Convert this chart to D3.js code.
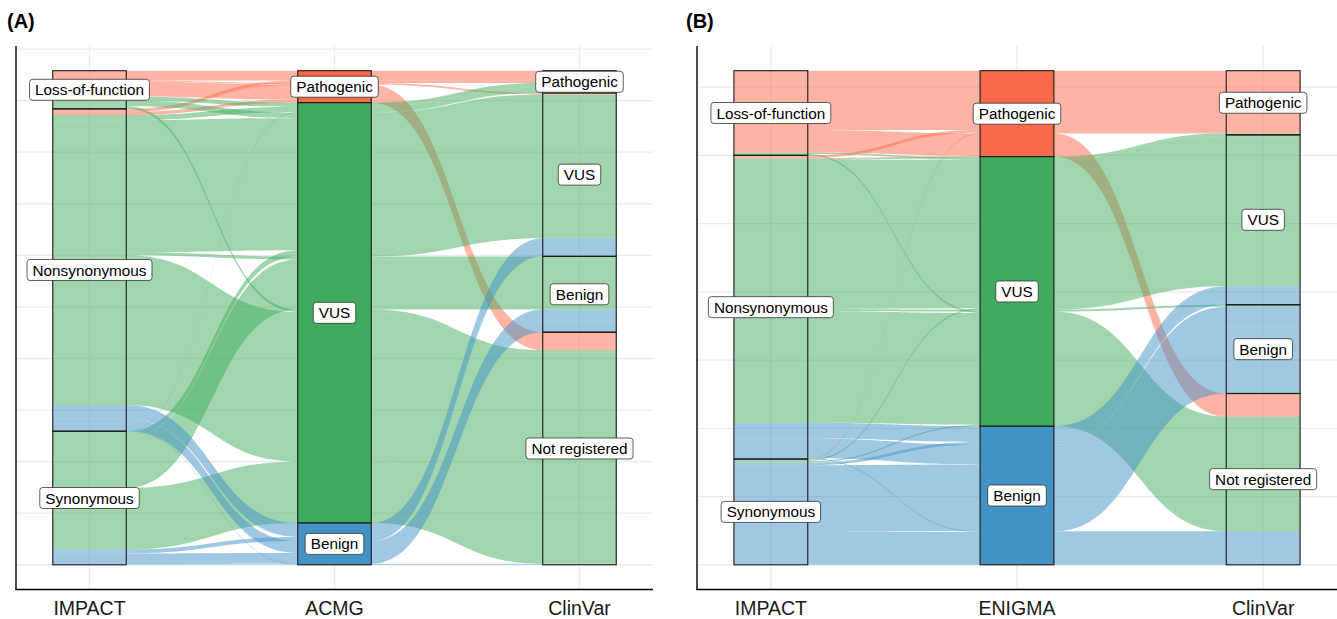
<!DOCTYPE html>
<html>
<head>
<meta charset="utf-8">
<script src="https://cdn.jsdelivr.net/npm/d3@7"></script>
<style>
  body { margin: 0; background: #fff; }
  svg { display: block; }
  text { font-family: "Liberation Sans", Arial, Helvetica, sans-serif; }
</style>
</head>
<body>
<svg id="chart" width="1337" height="619"></svg>
<script>
// Category levels, listed top to bottom on each axis
const impactLevels  = ["Loss-of-function", "Nonsynonymous", "Synonymous"];
const classLevels   = ["Pathogenic", "VUS", "Benign"];
const clinvarLevels = ["Pathogenic", "VUS", "Benign", "Not registered"];

const axesA = ["IMPACT", "ACMG", "ClinVar"];
const axesB = ["IMPACT", "ENIGMA", "ClinVar"];

const classColors = ["#FB6A4A", "#41AB5D", "#4292C6"];

// Variant counts per path: [IMPACT, ACMG, ClinVar, n]
const alluviaA = [
  ["Loss-of-function", "Pathogenic", "Pathogenic", 19],
  ["Nonsynonymous",    "Pathogenic", "Pathogenic", 5],
  ["Loss-of-function", "Pathogenic", "VUS", 2],
  ["Nonsynonymous",    "Pathogenic", "VUS", 1],
  ["Loss-of-function", "Pathogenic", "Not registered", 29],
  ["Nonsynonymous",    "Pathogenic", "Not registered", 6],
  ["Loss-of-function", "VUS", "Pathogenic", 8],
  ["Nonsynonymous",    "VUS", "Pathogenic", 10],
  ["Synonymous",       "VUS", "Pathogenic", 1],
  ["Loss-of-function", "VUS", "VUS", 11],
  ["Nonsynonymous",    "VUS", "VUS", 256],
  ["Synonymous",       "VUS", "VUS", 12],
  ["Nonsynonymous",    "VUS", "Benign", 6],
  ["Synonymous",       "VUS", "Benign", 97],
  ["Loss-of-function", "VUS", "Not registered", 5],
  ["Nonsynonymous",    "VUS", "Not registered", 290],
  ["Synonymous",       "VUS", "Not registered", 119],
  ["Nonsynonymous",    "Benign", "VUS", 27],
  ["Synonymous",       "Benign", "VUS", 8],
  ["Nonsynonymous",    "Benign", "Benign", 23],
  ["Synonymous",       "Benign", "Benign", 21],
  ["Nonsynonymous",    "Benign", "Not registered", 1],
  ["Synonymous",       "Benign", "Not registered", 1]
];

// Variant counts per path: [IMPACT, ENIGMA, ClinVar, n]
const alluviaB = [
  ["Loss-of-function", "Pathogenic", "Pathogenic", 87],
  ["Nonsynonymous",    "Pathogenic", "Pathogenic", 4],
  ["Synonymous",       "Pathogenic", "Pathogenic", 1],
  ["Loss-of-function", "Pathogenic", "Not registered", 33],
  ["Nonsynonymous",    "Pathogenic", "Not registered", 1],
  ["Nonsynonymous",    "VUS", "Pathogenic", 2],
  ["Loss-of-function", "VUS", "VUS", 2],
  ["Nonsynonymous",    "VUS", "VUS", 218],
  ["Synonymous",       "VUS", "VUS", 2],
  ["Nonsynonymous",    "VUS", "Benign", 3],
  ["Loss-of-function", "VUS", "Not registered", 2],
  ["Nonsynonymous",    "VUS", "Not registered", 164],
  ["Synonymous",       "VUS", "Not registered", 2],
  ["Nonsynonymous",    "Benign", "VUS", 23],
  ["Synonymous",       "Benign", "VUS", 4],
  ["Nonsynonymous",    "Benign", "Benign", 29],
  ["Synonymous",       "Benign", "Benign", 98],
  ["Nonsynonymous",    "Benign", "Not registered", 1],
  ["Synonymous",       "Benign", "Not registered", 48]
];

const svg = d3.select("#chart");

// Stack lodes on every axis; each axis sorts by its own stratum first,
// then zigzags through the remaining axes.
function stackAlluvia(rows, levels) {
  const lodeOrder = [[0, 1, 2], [1, 2, 0], [2, 1, 0]];
  const total = d3.sum(rows, r => r[3]);
  const lodes = rows.map(() => []);
  lodeOrder.forEach((ord, ax) => {
    const idx = d3.range(rows.length).sort((a, b) => {
      for (const k of ord) {
        const d = levels[k].indexOf(rows[a][k]) - levels[k].indexOf(rows[b][k]);
        if (d) return d;
      }
      return 0;
    });
    let acc = total;
    idx.forEach(i => { lodes[i][ax] = [acc, acc - rows[i][3]]; acc -= rows[i][3]; });
  });
  const strata = levels.map((lv, ax) => {
    let acc = total;
    return lv.map(name => {
      const n = d3.sum(rows.filter(r => r[ax] === name), r => r[3]);
      const s = { name, top: acc, bottom: acc - n, axis: ax };
      acc -= n;
      return s;
    }).filter(s => s.top > s.bottom);
  });
  return { total, lodes, strata };
}

function drawPanel(opts) {
  const { rows, axes, left, right, tag, tagX } = opts;
  const levels = [impactLevels, classLevels, clinvarLevels];
  const L = stackAlluvia(rows, levels);
  const top = 46, bottom = 589.5;

  const x = d3.scalePoint().domain(axes).range([left, right]).padding(0.3);
  const y = d3.scaleLinear().domain([-0.05 * L.total, 1.05 * L.total]).range([bottom, top]);
  const w = x.step() * 0.3;
  const color = d3.scaleOrdinal().domain(classLevels).range(classColors);

  const g = svg.append("g");

  // grid
  const gridVals = d3.range(0, 1.05 * L.total, 100);
  g.append("g").selectAll("line").data(gridVals).join("line")
    .attr("x1", left).attr("x2", right)
    .attr("y1", d => y(d)).attr("y2", d => y(d))
    .attr("stroke", "#ebebeb").attr("stroke-width", 1.3);
  g.append("g").selectAll("line").data(axes).join("line")
    .attr("x1", d => x(d)).attr("x2", d => x(d))
    .attr("y1", top).attr("y2", bottom)
    .attr("stroke", "#ebebeb").attr("stroke-width", 1.3);

  // alluvia
  const gap = x.step() - w;
  const k = gap * 0.5;
  function ribbon(lode) {
    const xs = axes.map(a => x(a));
    const t = lode.map(p => y(p[0]));
    const b = lode.map(p => y(p[1]));
    const p = d3.path();
    p.moveTo(xs[0] - w / 2, t[0]);
    p.lineTo(xs[0] + w / 2, t[0]);
    for (let i = 1; i < 3; i++) {
      const xa = xs[i - 1] + w / 2, xb = xs[i] - w / 2;
      p.bezierCurveTo(xa + k, t[i - 1], xb - k, t[i], xb, t[i]);
      p.lineTo(xs[i] + w / 2, t[i]);
    }
    p.lineTo(xs[2] + w / 2, b[2]);
    p.lineTo(xs[2] - w / 2, b[2]);
    for (let i = 2; i > 0; i--) {
      const xa = xs[i] - w / 2, xb = xs[i - 1] + w / 2;
      p.bezierCurveTo(xa - k, b[i], xb + k, b[i - 1], xb, b[i - 1]);
      p.lineTo(xs[i - 1] - w / 2, b[i - 1]);
    }
    p.closePath();
    return p.toString();
  }
  g.append("g").selectAll("path").data(rows).join("path")
    .attr("d", (r, i) => ribbon(L.lodes[i]))
    .attr("fill", r => color(r[1]))
    .attr("fill-opacity", 0.5);

  // strata
  const allStrata = L.strata.flat();
  g.append("g").selectAll("rect").data(allStrata).join("rect")
    .attr("x", s => x(axes[s.axis]) - w / 2)
    .attr("width", w)
    .attr("y", s => y(s.top))
    .attr("height", s => y(s.bottom) - y(s.top))
    .attr("fill", s => s.axis === 1 ? color(s.name) : "none")
    .attr("stroke", "#1a1a1a").attr("stroke-width", 1.1);

  // stratum labels
  const lab = g.append("g").selectAll("g").data(allStrata).join("g")
    .attr("transform", s => `translate(${x(axes[s.axis])},${(y(s.top) + y(s.bottom)) / 2})`);
  lab.append("rect");
  lab.append("text")
    .attr("text-anchor", "middle").attr("dy", "0.36em")
    .attr("font-size", "15.3px").attr("fill", "#000")
    .text(s => s.name);
  lab.each(function () {
    const tw = d3.select(this).select("text").node().getComputedTextLength();
    d3.select(this).select("rect")
      .attr("x", -tw / 2 - 5.5).attr("y", -10.5)
      .attr("width", tw + 11).attr("height", 21)
      .attr("rx", 3).attr("ry", 3)
      .attr("fill", "#fff").attr("stroke", "#333").attr("stroke-width", 0.8);
  });

  // axes
  g.append("line").attr("x1", left).attr("x2", left).attr("y1", top).attr("y2", bottom)
    .attr("stroke", "#000").attr("stroke-width", 1.4);
  g.append("line").attr("x1", left - 0.7).attr("x2", right).attr("y1", bottom).attr("y2", bottom)
    .attr("stroke", "#000").attr("stroke-width", 1.4);
  g.append("g").selectAll("text").data(axes).join("text")
    .attr("x", d => x(d)).attr("y", 615)
    .attr("text-anchor", "middle").attr("font-size", "19.5px").attr("fill", "#1a1a1a")
    .text(d => d);

  svg.append("text").attr("x", tagX).attr("y", 28)
    .attr("font-size", "20px").attr("font-weight", "bold").attr("fill", "#000")
    .text(tag);
}

drawPanel({ rows: alluviaA, axes: axesA, left: 16, right: 653, tag: "(A)", tagX: 7 });
drawPanel({ rows: alluviaB, axes: axesB, left: 697, right: 1337, tag: "(B)", tagX: 686 });
</script>
</body>
</html>
